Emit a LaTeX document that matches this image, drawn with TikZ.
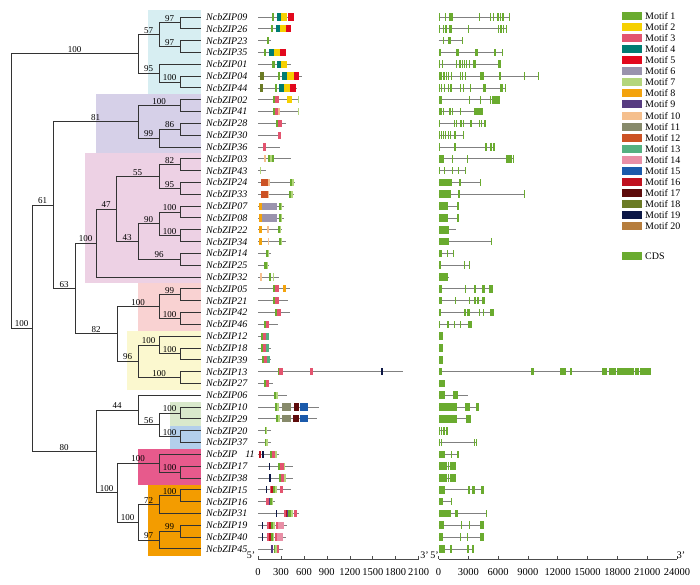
\documentclass[tikz,border=0pt]{standalone}
\usepackage{fontspec}
\setmainfont{Liberation Serif}
\usetikzlibrary{positioning}

\definecolor{m1}{HTML}{6AAB2F}
\definecolor{m2}{HTML}{F6D000}
\definecolor{m3}{HTML}{E3546F}
\definecolor{m4}{HTML}{007C72}
\definecolor{m5}{HTML}{E2081D}
\definecolor{m6}{HTML}{9A93AD}
\definecolor{m7}{HTML}{B4D67C}
\definecolor{m8}{HTML}{F3A30D}
\definecolor{m9}{HTML}{573C81}
\definecolor{m10}{HTML}{F5BF8D}
\definecolor{m11}{HTML}{878A6B}
\definecolor{m12}{HTML}{CC5224}
\definecolor{m13}{HTML}{54B181}
\definecolor{m14}{HTML}{E98FA6}
\definecolor{m15}{HTML}{1B5AAB}
\definecolor{m16}{HTML}{C0111F}
\definecolor{m17}{HTML}{5E0B0B}
\definecolor{m18}{HTML}{6B7B25}
\definecolor{m19}{HTML}{0C1745}
\definecolor{m20}{HTML}{B67D3D}
\definecolor{cds}{HTML}{6AAB2F}

\definecolor{hlcyan}{HTML}{D7EEF2}
\definecolor{hlpurple}{HTML}{D6D0E8}
\definecolor{hlpink}{HTML}{EDD1E4}
\definecolor{hlred}{HTML}{F9D2D2}
\definecolor{hlyellow}{HTML}{FBF8CF}
\definecolor{hlgreen}{HTML}{D9E9CC}
\definecolor{hlblue}{HTML}{B3CFEB}
\definecolor{hlmagenta}{HTML}{E75A8C}
\definecolor{hlorange}{HTML}{F39C00}

\tikzset{
  branch/.style={draw=black!80, line width=0.9pt},
  boot/.style={font=\fontsize{9}{9}\selectfont, above, inner sep=0.8pt, pos=0.75},
  gene/.style={font=\fontsize{10}{10}\selectfont\itshape, anchor=west, inner sep=0pt},
  backbone/.style={draw=black!50, line width=0.8pt},
  tick/.style={font=\fontsize{10.5}{10.5}\selectfont, inner sep=0pt},
  endlab/.style={font=\fontsize{10}{10}\selectfont, inner sep=0pt},
  legtext/.style={font=\fontsize{10}{10}\selectfont, anchor=west, inner sep=0pt}
}

\begin{document}
\begin{tikzpicture}[x=1pt, y=-1pt]
\useasboundingbox (0,0) rectangle (700,585);

% clade backgrounds
\fill[hlcyan] (148,10) rectangle (201,94);
\fill[hlpurple] (96,94) rectangle (201,153);
\fill[hlpink] (85,153) rectangle (201,283);
\fill[hlred] (138,283) rectangle (201,331);
\fill[hlyellow] (127,331) rectangle (201,390);
\fill[hlgreen] (170,402) rectangle (201,426);
\fill[hlblue] (170,426) rectangle (201,449);
\fill[hlmagenta] (138,449) rectangle (201,485);
\fill[hlorange] (148,485) rectangle (201,556);

% leaves and gene names
\foreach \k [count=\i from 0] in {09,26,23,35,01,04,44,02,41,28,30,36,03,43,24,33,07,08,22,34,14,25,32,05,21,42,46,12,18,39,13,27,06,10,29,20,37,11,17,38,15,16,31,19,40,45} {
  \coordinate (L\k) at (201,{17+11.82*\i});
  \node[gene] (g\k) at ([xshift=5pt]L\k) {NcbZIP\ifnum\k=11\hspace{8pt}\fi\k};
}

% internal nodes
\coordinate (root) at (11,191.1);
\coordinate (n100top) at (138,53.9);
\coordinate (n57) at (159,34.7);
\coordinate (n97a) at (180,22.9);
\coordinate (n97b) at (180,46.55);
\coordinate (n95) at (159,73.2);
\coordinate (n100a) at (180,82.0);
\coordinate (n100x) at (32,328.3);
\coordinate (n61) at (53,205.2);
\coordinate (n81) at (138,121.9);
\coordinate (n100b) at (180,105.65);
\coordinate (n99) at (159,138.15);
\coordinate (n86) at (180,129.3);
\coordinate (n63) at (75,288.5);
\coordinate (n100p) at (96,243.05);
\coordinate (n47) at (116,209.1);
\coordinate (n55) at (159,176.6);
\coordinate (n82) at (180,164.75);
\coordinate (n95b) at (180,188.4);
\coordinate (n43) at (138,241.6);
\coordinate (n90) at (159,223.85);
\coordinate (n100c) at (180,212.0);
\coordinate (n100d) at (180,235.7);
\coordinate (n96) at (180,259.3);
\coordinate (n82b) at (117,333.9);
\coordinate (n100r) at (159,306.6);
\coordinate (n99b) at (180,294.8);
\coordinate (n100e) at (180,318.4);
\coordinate (n96b) at (138,361.25);
\coordinate (n100g) at (159,345.0);
\coordinate (n100f) at (180,353.9);
\coordinate (n100h) at (180,377.5);
\coordinate (n80) at (96,451.4);
\coordinate (n44) at (138,410.0);
\coordinate (n56) at (159,424.8);
\coordinate (n100i) at (180,413.0);
\coordinate (n100j) at (180,436.6);
\coordinate (n100l) at (117,492.75);
\coordinate (n100q) at (159,463.2);
\coordinate (n100k) at (180,472.1);
\coordinate (n100n) at (138,522.3);
\coordinate (n72) at (159,504.55);
\coordinate (n100m) at (180,495.7);
\coordinate (n97c) at (159,540.05);
\coordinate (n99c) at (180,531.2);

% branches with support values
\foreach \p/\c/\b in {root/n100top/100, root/n100x/100,
  n100top/n57/57, n100top/n95/95, n57/n97a/97, n57/n97b/97, n95/n100a/100,
  n100x/n61/61, n100x/n80/80, n61/n81/81, n61/n63/63,
  n81/n100b/100, n81/n99/99, n99/n86/86,
  n63/n100p/100, n63/n82b/82, n100p/n47/47, n47/n55/55, n47/n43/43,
  n55/n82/82, n55/n95b/95, n43/n90/90, n43/n96/96, n90/n100c/100, n90/n100d/100,
  n82b/n100r/100, n82b/n96b/96, n100r/n99b/99, n100r/n100e/100,
  n96b/n100g/100, n96b/n100h/100, n100g/n100f/100,
  n80/n44/44, n80/n100l/100, n44/n56/56, n56/n100i/100, n56/n100j/100,
  n100l/n100q/100, n100l/n100n/100, n100q/n100k/100,
  n100n/n72/72, n100n/n97c/97, n72/n100m/100, n97c/n99c/99}
  \draw[branch] (\p) |- node[boot] (b\c) {\b} (\c);

% branches to leaves
\foreach \p/\c in {n97a/L09, n97a/L26, n97b/L23, n97b/L35, n95/L01, n100a/L04, n100a/L44,
  n100b/L02, n100b/L41, n86/L28, n86/L30, n99/L36,
  n82/L03, n82/L43, n95b/L24, n95b/L33, n100c/L07, n100c/L08, n100d/L22, n100d/L34,
  n96/L14, n96/L25, n100p/L32,
  n99b/L05, n99b/L21, n100e/L42, n100e/L46, n100g/L12, n100f/L18, n100f/L39,
  n100h/L13, n100h/L27,
  n44/L06, n100i/L10, n100i/L29, n100j/L20, n100j/L37,
  n100q/L11, n100k/L17, n100k/L38, n100m/L15, n100m/L16, n72/L31,
  n99c/L19, n99c/L40, n97c/L45}
  \draw[branch] (\p) |- (\c);

% conserved motifs (aa)
\begin{scope}[shift={(258,0)}, x=0.0765pt]
\foreach \r/\e/\bx in {0/464/{1/179/210,4/245/302,2/302/376,5/389/464},
  1/437/{1/166/197,4/232/289,2/289/363,5/363/437},
  2/166/{1/114/144},
  3/363/{1/79/109,4/149/210,2/210/289,5/289/363},
  4/429/{1/188/219,4/245/302,2/302/376},
  5/573/{18/26/74,1/258/284,4/319/376,2/376/464,5/464/542},
  6/516/{18/22/70,1/223/245,4/280/341,2/341/420,5/420/499},
  7/542/{1/201/223,3/223/271,2/376/446,7/521/534},
  8/542/{1/201/227,3/227/262,10/262/289,7/521/534},
  9/367/{1/236/262,3/262/311},
  10/302/{3/262/297},
  11/289/{3/70/109},
  12/429/{10/79/101,1/136/157,7/157/184,1/184/206},
  13/105/{7/26/44},
  14/486/{12/35/136,10/136/157,1/416/446,7/446/468},
  15/464/{12/35/136,10/136/149,1/407/437,7/437/455},
  16/341/{8/17/57,6/57/254,1/271/302,7/302/319},
  17/341/{8/17/57,6/57/254,1/271/302,7/302/319},
  18/315/{8/13/48,10/122/140,1/258/289,7/289/302},
  19/367/{8/17/52,10/127/144,1/271/302,7/302/315},
  20/166/{1/105/131,7/131/144},
  21/149/{1/83/114,7/114/127},
  22/271/{10/26/48,1/149/175,7/201/214},
  23/420/{1/201/227,3/227/271,8/332/363},
  24/389/{1/201/227,3/227/271},
  25/416/{1/227/254,3/254/297},
  26/267/{1/79/105,3/105/149},
  27/149/{1/35/61,3/61/105,13/105/140},
  28/166/{1/39/70,3/70/105,13/105/140},
  29/175/{1/52/79,3/79/122,13/122/157},
  30/1890/{1/258/280,3/280/328,3/682/717,19/1610/1628},
  31/201/{1/79/105,3/105/149},
  32/385/{1/210/236,7/236/262},
  33/800/{1/223/245,7/245/280,11/319/437,17/464/542,15/551/652},
  34/765/{1/236/258,7/258/289,11/319/437,17/455/534,15/551/647},
  35/166/{1/87/109,7/109/122},
  36/166/{1/87/109,7/109/127},
  37/271/{16/17/35,19/57/74,1/157/184,3/184/219,7/219/245},
  38/451/{19/144/162,1/267/293,3/293/337,7/337/359},
  39/455/{19/149/166,1/276/302,3/302/341,7/341/363},
  40/433/{19/105/122,3/157/175,16/175/192,1/192/219,7/219/254,3/289/332},
  41/219/{3/105/140,9/140/157,1/157/179,7/179/201},
  42/542/{19/236/254,3/341/367,16/367/385,9/385/398,1/398/429,7/429/455,3/464/507},
  43/376/{19/52/70,3/122/149,16/149/166,1/175/201,7/201/227,3/232/262,14/262/346},
  44/367/{19/52/70,3/122/149,16/149/166,1/166/192,7/192/210,3/219/245,14/245/332},
  45/332/{9/175/192,1/206/227,7/227/245,3/245/280}} {
  \pgfmathsetmacro{\yr}{17+11.82*\r}
  \draw[backbone] (0,\yr) -- (\e,\yr);
  \foreach \m/\s/\t in \bx
    \fill[m\m] (\s,\yr-3.6) rectangle (\t,\yr+3.6);
}
% axis
\draw[black!70, line width=0.6pt] (0,559) -- (2100,559);
\foreach \v in {0,300,...,2100} {
  \draw[black!70, line width=0.6pt] (\v,559) -- (\v,555.5);
  \node[tick] (ma\v) at (\v,572) {\v};
}
\end{scope}
\node[endlab] (m5) at (251,555) {5'};
\node[endlab] (m3) at (424.5,555) {3'};

% gene structure (units of 100 bp)
\begin{scope}[shift={(438.5,0)}, x=0.9937pt]
\foreach \r/\e/\ex in {0/72.2/{0/0.7,6.7/7.7,10.8/14.4,40.3/41.3,51.4/52.4,54.4/55.4,59.1/60.8,61.5/63.2,63.8/65.5,70.9/72.2},
  1/68.9/{0/1,4.4/5.4,6.7/8.4,10.1/11.1,11.8/13.1,29.2/30.6,59.5/61.2,61.8/63.5,64.5/66.2,67.5/68.9},
  2/24.5/{4.4/5.4,9.8/12.8,23.5/24.5},
  3/64.9/{0/1,1.7/2.7,17.5/20.5,37/39.7,55.4/57.8,63.5/64.9},
  4/62.8/{0/1,3.4/4.4,17.8/18.8,20.2/21.2,21.8/22.9,23.5/24.5,25.2/26.5,27.6/28.6,30.9/31.9,34.6/37.6,60.1/62.8},
  5/100.8/{0/1,2/3.4,5/6.4,7.4/8.4,9.4/10.8,12.4/13.4,21.2/21.8,23.5/24.2,26.9/27.9,42/45.4,60.5/63.2,85.7/87,99.8/100.8},
  6/68.2/{0/1,2.7/3.7,5.4/6.7,9.4/10.8,11.8/13.1,21.2/22.5,24.2/25.2,31.3/32.3,44.7/47.4,61.5/62.9,63.2/64.5,66.9/68.2},
  7/61.5/{0/4,30.2/31.9,42/42.7,51.4/52.4,53.8/61.5},
  8/44.4/{0/3.4,4.4/5,10.8/12.8,13.4/14.5,21.8/22.5,35.3/44.4},
  9/47.7/{0/0.7,15.1/16.1,17.5/18.5,21.8/23.5,24.2/25.5,31.3/33.6,40.3/41.3,42.7/44,45.7/47.4},
  10/25.9/{0/0.7,2.4/3.4,4.4/5,6.4/7.7,9.1/10.1,11.1/11.8,15.1/16.1,16.8/17.8,24.5/25.9},
  11/57.1/{0/1,15.1/17.5,47/48.7,52.1/54.1,54.8/57.1},
  12/75.6/{0/5.7,13.4/14.8,28.6/29.2,68.2/74.4,74.6/75.6},
  13/27.2/{0/1,5.7/6.7,13.4/14.1,19.5/20.5,26.2/27.2},
  14/42.7/{0/13.1,20.2/21.2,21.8/22.9,41.3/42.7},
  15/87.4/{0/12.8,19.2/20.2,20.8/21.5,86.4/87.4},
  16/20.2/{0/9.1,18.5/20.2},
  17/20.2/{0/9.1,18.5/20.2},
  18/17.5/{0/8.4,8.4/10.1},
  19/54.1/{0/9.1,9.4/10.8,52.8/54.1},
  20/15.8/{0/3.4,8.4/9.4,14.1/15.1},
  21/31.9/{0/2.7,25.2/26.2,30.2/31.9},
  22/10.1/{0/7.4,7.7/9.4},
  23/54.8/{0/3.4,26.2/27.6,35.3/38,43.7/47,50.4/54.8},
  24/47/{0/3.4,16.8/17.8,30.2/31.9,35.3/37.6,38.6/40.3,43.7/47},
  25/55.4/{0/2.7,25.2/27.6,28.6/31.3,40.3/42,44.4/45.4,51.4/55.4},
  26/33.6/{0/0.7,8.4/10.8,15.1/16.1,21.2/22.5,29.2/33.6},
  27/5/{0/5},
  28/5/{0/5},
  29/5/{0/5},
  30/213.4/{0/3.4,93.1/95.8,122.6/128.7,132.7/134.1,164.6/169.7,171.4/179.1,179.8/197.2,198.2/201.6,202.3/213.4},
  31/6.1/{0/6.1},
  32/29.6/{0/6.7,14.1/16.1,16.8/19.2},
  33/40.3/{0/18.5,26.9/29.6,30/31.3,37.6/40.3},
  34/32.9/{0/18.5,27.9/32.9},
  35/9.1/{0/1.7,2.7/4,5/6.7,7.4/9.1},
  36/39/{0/1,2.7/4,35.3/36.6,37.3/39},
  37/20.2/{0/6.7,12.4/13.8,18.5/20.2},
  38/17.5/{0/8.4,9.1/10.4,11.8/13.1,13.8/17.5},
  39/17.8/{0/8.4,9.4/10.4,11.8/13.1,13.8/17.8},
  40/46/{0/6.7,29.6/31.3,33.9/36.6,42.7/46},
  41/13.4/{0/5,12.4/13.4},
  42/48.7/{0/12.8,16.8/19.2,47.4/48.7},
  43/45.4/{0/5.7,22.2/23.5,30.2/31.3,41.3/45.4},
  44/46/{0/5,21.2/22.5,28.6/29.6,42/46},
  45/35.3/{0/6.7,11.8/13.8,28.9/30.2,33.3/35.3}} {
  \pgfmathsetmacro{\yr}{17+11.82*\r}
  \draw[backbone] (0,\yr) -- (\e,\yr);
  \foreach \s/\t in \ex
    \fill[cds] (\s,\yr-3.8) rectangle (\t,\yr+3.8);
}
% axis
\draw[black!70, line width=0.6pt] (0,559) -- (240,559);
\foreach \v/\lab in {0/0,30/3000,60/6000,90/9000,120/12000,150/15000,180/18000,210/21000,240/24000} {
  \draw[black!70, line width=0.6pt] (\v,559) -- (\v,555.5);
  \node[tick] (ga\v) at (\v,572) {\lab};
}
\end{scope}
\node[endlab] (g5) at (434.5,555) {5'};
\node[endlab] (g3) at (681,555) {3'};

% legend
\foreach \m [count=\i from 0] in {1,...,20} {
  \fill[m\m] (622,{16+11.06*\i-4}) rectangle (642,{16+11.06*\i+4});
  \node[legtext] (lg\m) at (645,{16+11.06*\i}) {Motif \m};
}
\fill[cds] (622,252) rectangle (642,260);
\node[legtext] (lgcds) at (645,256) {CDS};
\end{tikzpicture}
\end{document}
